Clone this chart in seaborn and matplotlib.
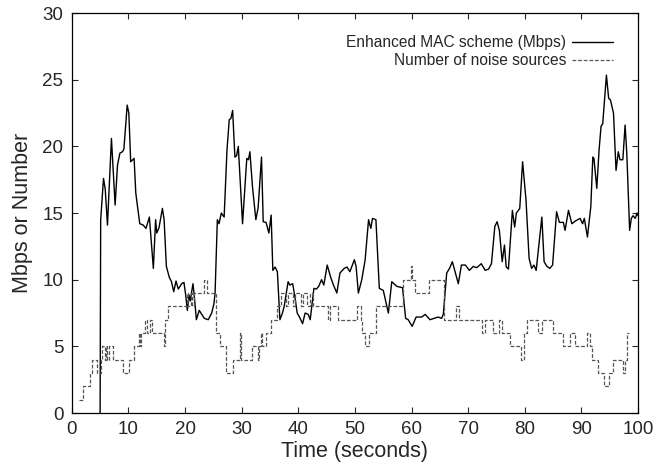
import numpy as np
import pandas as pd
import matplotlib
matplotlib.use("Agg")
import matplotlib.pyplot as plt
import seaborn as sns

####Data######################################################################
mac_time = [5.0, 5.1, 5.6, 5.9, 6.3, 7.0, 7.65, 8.07, 8.5, 8.95, 9.2, 9.78, 10.07,
            10.4, 11.0, 11.3, 11.7, 12.0, 12.6, 13.1, 13.7, 14.4, 14.8, 15.0, 15.4,
            16.0, 16.3, 16.7, 17.2, 17.6, 18.0, 18.4, 18.8, 19.4, 19.8, 20.1, 20.4,
            20.7, 20.9, 21.4, 21.6, 22.0, 22.5, 22.8, 23.4, 24.1, 24.7, 25.1, 25.3,
            25.7, 26.0, 26.4, 26.9, 27.4, 27.8, 28.1, 28.4, 28.8, 29.1, 29.4, 30.15,
            30.9, 31.2, 31.45, 31.9, 32.5, 32.9, 33.5, 33.8, 34.3, 34.8, 35.2, 35.5,
            35.9, 36.3, 36.75, 37.2, 37.5, 38.2, 38.5, 39.0, 39.4, 39.8, 40.2, 40.75,
            41.2, 41.75, 42.1, 42.75, 43.2, 43.6, 44.1, 44.5, 45.1, 45.7, 46.2, 46.8,
            47.35, 48.1, 48.6, 49.1, 49.9, 50.2, 50.6, 51.2, 51.8, 52.4, 52.8, 53.1,
            53.7, 54.3, 55.0, 55.9, 56.5, 57.4, 58.4, 58.95, 59.4, 60.1, 60.8, 61.8,
            62.4, 63.25, 64.0, 64.7, 65.3, 65.6, 66.2, 66.7, 67.2, 67.8, 68.25, 68.8,
            69.5, 70.2, 70.9, 71.5, 72.3, 73.0, 73.6, 74.1, 74.7, 75.1, 75.5, 76.0,
            76.4, 76.7, 77.1, 77.5, 77.8, 78.2, 78.5, 79.1, 79.6, 80.2, 80.75, 81.2,
            81.6, 82.0, 83.0, 83.4, 83.9, 84.4, 84.9, 85.6, 86.1, 86.8, 87.1, 87.7,
            88.3, 88.9, 89.75, 90.2, 90.5, 91.05, 91.65, 92.0, 92.2, 92.7, 93.1, 93.45,
            93.75, 94.4, 94.8, 95.1, 95.65, 96.1, 96.5, 96.8, 97.3, 97.7, 98.0, 98.5,
            98.8, 99.1, 99.5, 99.8, 100.0]
mac_mbps = [0.0, 14.5, 17.6, 16.8, 14.1, 20.6, 15.6, 18.6, 19.5, 19.6, 19.8, 23.1, 22.5,
            18.85, 19.1, 16.5, 15.2, 14.2, 14.1, 13.85, 14.7, 10.85, 14.5, 13.5, 13.9,
            15.35, 14.5, 11.0, 10.2, 9.85, 9.1, 9.9, 9.3, 9.7, 9.8, 8.9, 7.7,
            8.85, 8.4, 9.7, 8.9, 7.0, 7.7, 7.5, 7.1, 7.0, 7.5, 8.2, 9.0,
            14.5, 14.2, 15.0, 14.7, 19.7, 22.0, 22.1, 22.7, 19.2, 19.3, 20.0, 14.2,
            19.1, 19.0, 19.6, 17.0, 14.5, 15.4, 19.2, 14.35, 14.3, 13.5, 14.85, 10.7,
            10.95, 10.6, 7.0, 7.5, 8.0, 9.85, 9.6, 9.7, 8.7, 7.5, 7.2, 6.7,
            7.5, 7.4, 7.0, 9.35, 9.3, 9.5, 10.0, 9.6, 11.1, 10.2, 9.6, 9.0,
            10.5, 10.85, 10.95, 10.6, 11.5, 11.0, 9.0, 10.0, 11.5, 14.5, 13.85, 14.6,
            14.5, 9.35, 9.2, 7.5, 9.85, 9.5, 9.4, 7.1, 7.0, 6.5, 7.2, 7.2,
            7.4, 7.0, 7.1, 7.2, 7.1, 7.4, 10.5, 10.85, 11.35, 10.4, 9.7, 11.1,
            11.1, 10.7, 11.0, 10.9, 11.2, 10.7, 10.8, 11.2, 14.0, 14.35, 13.7, 11.35,
            12.6, 10.97, 10.8, 13.3, 15.2, 13.95, 15.0, 15.35, 18.85, 16.0, 11.6, 10.85,
            11.1, 10.7, 14.7, 11.35, 11.0, 10.85, 11.1, 15.1, 14.3, 14.3, 13.7, 15.2,
            14.2, 14.4, 14.6, 14.2, 14.6, 13.2, 15.5, 19.2, 19.1, 16.85, 19.7, 21.5,
            21.7, 25.35, 23.6, 23.5, 22.5, 18.2, 19.6, 19.0, 19.0, 21.6, 19.5, 13.7,
            14.6, 14.8, 14.6, 15.0, 14.8]

noise_time = [1.3, 1.9, 3.3, 3.5, 4.4, 5.1, 5.4, 5.8, 6.0, 6.3, 6.5, 7.3, 9.0, 10.1,
              11.0, 11.9, 12.1, 12.3, 12.9, 13.2, 13.8, 14.2, 16.3, 16.5, 17.0, 20.4,
              20.6, 21.0, 21.2, 21.6, 23.4, 23.8, 25.4, 26.1, 27.3, 28.5, 29.7, 29.9,
              31.9, 32.8, 33.0, 33.4, 33.6, 34.3, 35.1, 36.3, 37.0, 37.8, 38.2, 39.0,
              39.4, 40.4, 40.8, 41.6, 42.0, 42.6, 45.2, 45.6, 47.0, 50.3, 51.0, 51.3,
              51.7, 52.4, 53.8, 58.5, 59.9, 60.1, 60.6, 63.0, 65.8, 67.8, 68.3, 72.5,
              72.9, 74.4, 75.5, 75.9, 77.4, 79.3, 79.9, 80.3, 82.4, 83.0, 85.0, 86.8,
              88.0, 88.8, 90.9, 91.5, 91.8, 93.0, 93.9, 94.9, 95.6, 97.4, 97.7, 98.0,
              98.4]
noise_count = [1, 2, 3, 4, 3, 4, 5, 4, 5, 4, 5, 4, 3, 4,
               5, 6, 5, 6, 7, 6, 7, 6, 5, 7, 8, 9,
               8, 9, 8, 9, 10, 9, 6, 5, 3, 4, 6, 4,
               5, 4, 5, 6, 5, 6, 7, 8, 9, 8, 9, 8,
               9, 8, 9, 8, 9, 8, 7, 8, 7, 8, 7, 6,
               5, 6, 8, 10, 11, 10, 9, 10, 7, 8, 7, 6,
               7, 6, 7, 6, 5, 4, 6, 7, 6, 7, 6, 5,
               6, 5, 6, 5, 4, 3, 2, 3, 4, 3, 4, 6,
               6]

x_ticks = [0, 10, 20, 30, 40, 50, 60, 70, 80, 90, 100]
y_ticks = [0, 5, 10, 15, 20, 25, 30]

mac_df = pd.DataFrame({"time": mac_time, "value": mac_mbps})
noise_df = pd.DataFrame({"time": noise_time, "value": noise_count})

####Plot######################################################################
sns.set_style("ticks")
plt.rcParams["font.family"] = ["Liberation Sans", "DejaVu Sans"]

fig = plt.figure(figsize=(6.71, 4.68), dpi=100)
ax = fig.add_axes([0.107, 0.1175, 0.844, 0.8545])

sns.lineplot(data=mac_df, x="time", y="value", ax=ax, color="black", lw=1.0,
             estimator=None, sort=False, label="Enhanced MAC scheme (Mbps)")
sns.lineplot(data=noise_df, x="time", y="value", ax=ax, color="#555555", lw=0.9,
             estimator=None, sort=False, drawstyle="steps-post",
             linestyle=(0, (3, 1.5)), label="Number of noise sources")

ax.set_xlim(0, 100)
ax.set_ylim(0, 30)
ax.set_xticks(x_ticks)
ax.set_yticks(y_ticks)
ax.tick_params(direction="in", top=True, right=True, length=4, width=0.8,
               labelsize=13.5, pad=6)
for s in ax.spines.values():
    s.set_linewidth(0.9)
    s.set_color("black")

ax.set_xlabel("Time (seconds)", fontsize=15.5, labelpad=2)
ax.set_ylabel("Mbps or Number", fontsize=15.5, labelpad=7)

ax.legend(loc="upper right", frameon=False, markerfirst=False, fontsize=11.2,
          handlelength=2.6, handletextpad=0.4, labelspacing=0.2,
          bbox_to_anchor=(0.98, 0.98))

fig.savefig("out.png", dpi=100)
